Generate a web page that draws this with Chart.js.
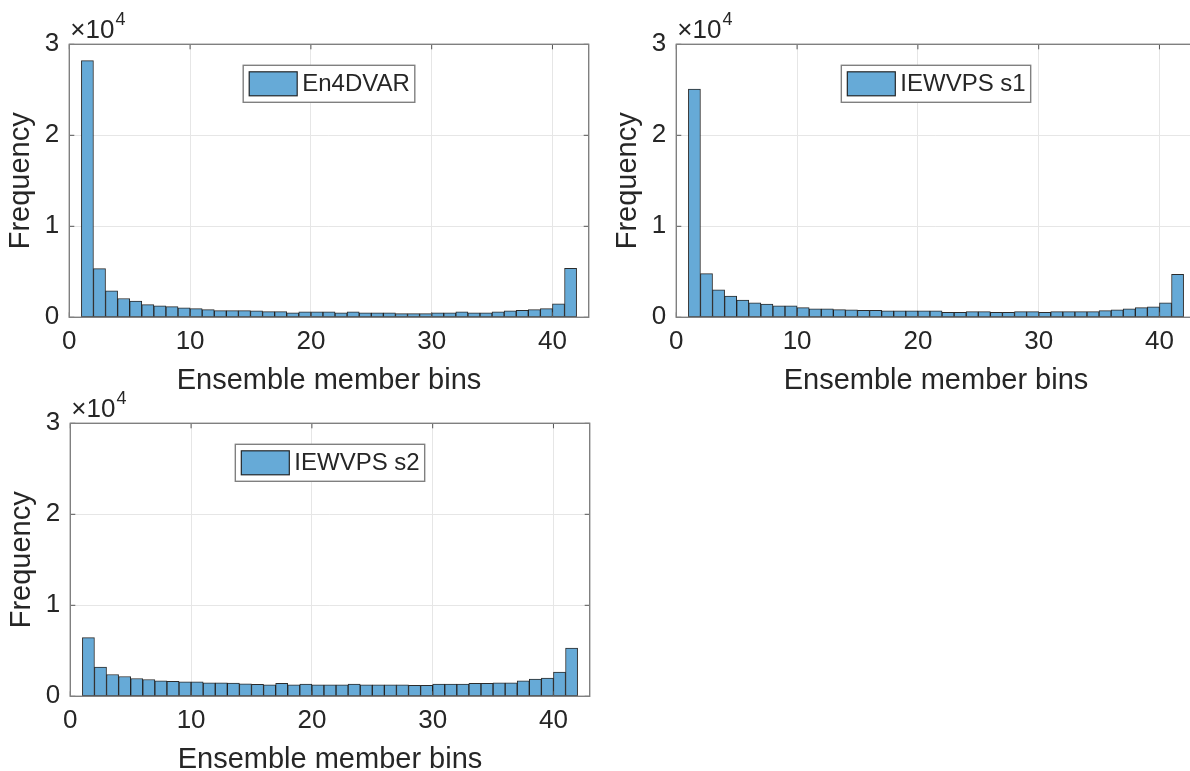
<!DOCTYPE html>
<html>
<head>
<meta charset="utf-8">
<script src="https://cdn.jsdelivr.net/npm/chart.js@4.4.1/dist/chart.umd.min.js"></script>
<style>
  html, body { margin: 0; padding: 0; background: #fff; overflow: hidden; }
  body { width: 1190px; height: 771px; position: relative; }
  canvas { position: absolute; }
</style>
</head>
<body>
<canvas id="c1" width="600" height="400" style="left:0px;top:0px"></canvas>
<canvas id="c2" width="600" height="400" style="left:607px;top:0px"></canvas>
<canvas id="c3" width="600" height="400" style="left:1px;top:379px"></canvas>
<script>
// histogram bin edges (ensemble member bins)
const binEdges = [1, 2, 3, 4, 5, 6, 7, 8, 9, 10, 11, 12, 13, 14, 15, 16, 17, 18, 19, 20, 21,
  22, 23, 24, 25, 26, 27, 28, 29, 30, 31, 32, 33, 34, 35, 36, 37, 38, 39, 40, 41, 42];

const en4dvarCounts = [28200, 5350, 2920, 2070, 1770, 1400, 1250, 1180, 1030, 960,
  850, 740, 740, 740, 700, 630, 630, 480, 590, 590,
  590, 480, 590, 480, 480, 480, 410, 410, 410, 480,
  480, 590, 480, 480, 590, 700, 770, 850, 960, 1480, 5390];

const iewvpsS1Counts = [25070, 4800, 3030, 2320, 1880, 1590, 1440, 1250, 1250, 1070,
  920, 920, 850, 810, 770, 770, 700, 700, 700, 700,
  700, 550, 550, 630, 630, 550, 550, 630, 630, 550,
  630, 630, 630, 630, 740, 810, 920, 1070, 1150, 1590, 4720];

const iewvpsS2Counts = [6450, 3200, 2400, 2180, 1960, 1850, 1710, 1640, 1600, 1600,
  1490, 1490, 1450, 1380, 1310, 1270, 1420, 1270, 1350, 1270,
  1270, 1270, 1350, 1270, 1270, 1270, 1270, 1200, 1200, 1350,
  1350, 1350, 1420, 1420, 1490, 1490, 1710, 1890, 2000, 2650, 5310];

const xTicks = [0, 10, 20, 30, 40];
const yTicks = [0, 10000, 20000, 30000];
const xTitle = 'Ensemble member bins';
const yTitle = 'Frequency';

const fam = '"Liberation Sans", Arial, Helvetica, sans-serif';
const textColor = '#262626';
const barColor = '#66aad7';
const edgeColor = 'rgba(20,20,20,0.9)';

Chart.defaults.font.family = fam;
Chart.defaults.color = textColor;

// box around the axes with inward ticks, like matlab
const axesFrame = {
  id: 'axesFrame',
  afterDraw(chart) {
    const ctx = chart.ctx, a = chart.chartArea;
    const xs = chart.scales.x, ys = chart.scales.y;
    ctx.save();
    ctx.strokeStyle = '#555';
    ctx.lineWidth = 1;
    ctx.beginPath();
    xTicks.forEach(v => {
      const px = xs.getPixelForValue(v);
      ctx.moveTo(px, a.bottom); ctx.lineTo(px, a.bottom - 5);
      ctx.moveTo(px, a.top); ctx.lineTo(px, a.top + 5);
    });
    yTicks.forEach(v => {
      const py = ys.getPixelForValue(v);
      ctx.moveTo(a.left, py); ctx.lineTo(a.left + 5, py);
      ctx.moveTo(a.right, py); ctx.lineTo(a.right - 5, py);
    });
    ctx.stroke();
    ctx.strokeStyle = '#808080';
    ctx.lineWidth = 1.4;
    ctx.strokeRect(a.left, a.top, a.right - a.left, a.bottom - a.top);

    // x10^4 exponent label
    ctx.fillStyle = textColor;
    ctx.textBaseline = 'alphabetic';
    ctx.font = '26px ' + fam;
    const base = '\u00d710';
    ctx.fillText(base, a.left + 1, a.top - 6);
    const bw = ctx.measureText(base).width;
    ctx.font = '18px ' + fam;
    ctx.fillText('4', a.left + 1 + bw + 1, a.top - 19);
    ctx.restore();
  }
};

const legendBox = {
  id: 'legendBox',
  afterDraw(chart) {
    const ctx = chart.ctx, a = chart.chartArea;
    const ds = chart.data.datasets[0];
    ctx.save();
    ctx.font = '24px ' + fam;
    const tw = ctx.measureText(ds.label).width;
    const pl = 6, sw = 48, sh = 24, gap = 5, pr = 5, h = 37;
    const w = pl + sw + gap + tw + pr;
    const x = (a.left + a.right) / 2 - w / 2;
    const y = a.top + 21;
    ctx.fillStyle = '#fff';
    ctx.fillRect(x, y, w, h);
    ctx.strokeStyle = '#808080';
    ctx.lineWidth = 1.4;
    ctx.strokeRect(x, y, w, h);
    ctx.fillStyle = barColor;
    ctx.fillRect(x + pl, y + (h - sh) / 2, sw, sh);
    ctx.strokeStyle = edgeColor;
    ctx.lineWidth = 1.2;
    ctx.strokeRect(x + pl, y + (h - sh) / 2, sw, sh);
    ctx.fillStyle = textColor;
    ctx.textBaseline = 'middle';
    ctx.fillText(ds.label, x + pl + sw + gap, y + h / 2 + 1);
    ctx.restore();
  }
};

function histData(counts) {
  return counts.map((c, i) => ({ x: (binEdges[i] + binEdges[i + 1]) / 2, y: c }));
}

function makeHist(id, label, counts) {
  return new Chart(document.getElementById(id), {
    type: 'bar',
    data: {
      datasets: [{
        label: label,
        data: histData(counts),
        backgroundColor: barColor,
        borderColor: edgeColor,
        borderWidth: 1,
        borderSkipped: false,
        barPercentage: 1,
        categoryPercentage: 1
      }]
    },
    options: {
      responsive: false,
      animation: false,
      layout: { padding: { left: 0, right: 11.3, top: 44.3, bottom: 0 } },
      plugins: { legend: { display: false }, tooltip: { enabled: false } },
      scales: {
        x: {
          type: 'linear',
          min: 0,
          max: 43,
          offset: false,
          grid: { color: '#e6e6e6', drawTicks: false, offset: false },
          border: { display: false },
          ticks: {
            stepSize: 10, includeBounds: false, autoSkip: false, maxRotation: 0,
            padding: 9, color: textColor, font: { size: 26 }
          },
          title: {
            display: true, text: xTitle, color: textColor,
            font: { size: 29 }, padding: { top: 0, bottom: 2 }
          },
          afterFit(s) { s.height = 82.7; }
        },
        y: {
          min: 0,
          max: 30000,
          grid: { color: '#e6e6e6', drawTicks: false },
          border: { display: false },
          ticks: {
            stepSize: 10000, padding: 10, color: textColor, font: { size: 26 },
            callback: v => v / 10000
          },
          title: {
            display: true, text: yTitle, color: textColor,
            font: { size: 29 }, padding: { top: 4, bottom: 0 }
          },
          afterFit(s) { s.width = 69.3; }
        }
      }
    },
    plugins: [axesFrame, legendBox]
  });
}

makeHist('c1', 'En4DVAR', en4dvarCounts);
makeHist('c2', 'IEWVPS s1', iewvpsS1Counts);
makeHist('c3', 'IEWVPS s2', iewvpsS2Counts);
</script>
</body>
</html>
